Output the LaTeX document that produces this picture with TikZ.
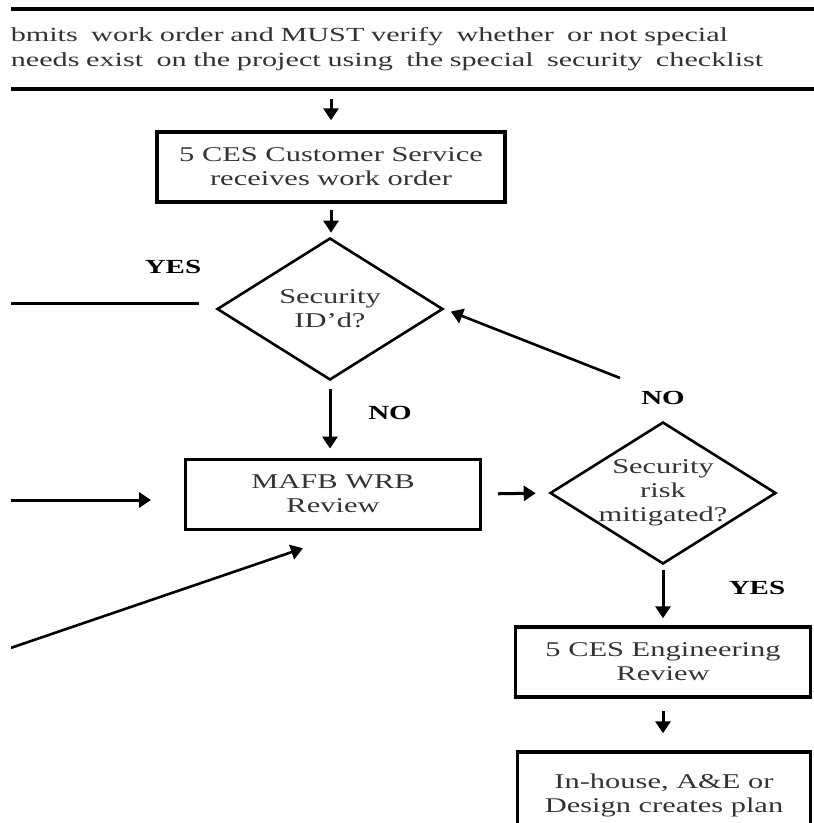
\documentclass[tikz,border=0pt]{standalone}
\usepackage{fontspec}
\setmainfont[FakeStretch=1.45]{Liberation Serif}
\newfontfamily\orderfont[FakeStretch=1.51]{Liberation Serif}
\usetikzlibrary{shapes.geometric,arrows.meta}

\begin{document}
\begin{tikzpicture}[x=1pt,y=-1pt,
  every node/.style={font=\fontsize{21}{24}\selectfont,text=black!80},
  proc/.style={draw=black,line width=3.5pt,align=center,minimum height=70pt,inner sep=0pt},
  decision/.style={draw=black,line width=2.6pt,shape=diamond,minimum width=226pt,minimum height=142pt,inner sep=0pt,align=center},
  flow/.style={line width=3pt,-{Triangle[length=12pt,width=15pt]}},
  answer/.style={font=\bfseries\fontsize{20}{22}\selectfont,text=black}]
  \useasboundingbox (0,0) rectangle (814,823);
  \clip (11,0) rectangle (814,823);
  % boxes and decisions
  \node[proc,anchor=west,inner xsep=39pt,text width=820pt,minimum height=80pt,align=left,
    font=\orderfont\fontsize{20}{25}\selectfont] (order) at (-30,49)
    {bmits\ \ work order and MUST verify\ \ whether\ \ or not special\\needs exist\ \ on the project using\ \ the special\ \ security\ \ checklist};
  \node[proc,minimum width=348pt] (cust) at (331,167) {5 CES Customer Service\\receives work order};
  \node[decision] (sid) at (330,309) {Security\\ID'd?};
  \node[proc,line width=3pt,minimum width=295pt] (mafb) at (333,494) {MAFB WRB\\Review};
  \node[decision,label={[align=center]center:{Security\\risk\\mitigated?}}] (risk) at (663,493) {};
  \node[proc,minimum width=295pt] (eng) at (663,662) {5 CES Engineering\\Review};
  \node[proc,minimum width=293pt,minimum height=86pt] (plan) at (664,795) {In-house, A\&E or\\Design creates plan};
  % answers
  \node[answer] (yesleft) at (173,267) {YES};
  \node[answer] (noleft) at (390,413) {NO};
  \node[answer] (noright) at (663,398) {NO};
  \node[answer] (yesright) at (757,588) {YES};
  % free ends
  \coordinate (yesout) at (-10,303);
  \coordinate (wrbin) at (-10,500);
  \coordinate (wrbdiag) at (-10,655);
  \coordinate (noback) at (620,378);
  % connectors
  \draw[flow,shorten <=8pt,shorten >=10pt] (order.south -| cust.north) -- (cust.north);
  \foreach \from/\to/\sa/\sb in {cust/sid/6/4,sid/mafb/8/9,risk/eng/5/7,eng/plan/12/17}
    \draw[flow,shorten <=\sa pt,shorten >=\sb pt] (\from.south) -- (\from.south |- \to.north);
  \draw[line width=3pt,shorten >=17pt] (yesout) -- (yesout -| sid.west);
  \draw[flow,shorten >=33pt] (wrbin) -- (wrbin -| mafb.west);
  \draw[flow,shorten <=16pt,shorten >=13pt] (mafb.east) -- (risk.west);
  \draw[flow,line width=2.6pt,shorten >=55pt] (wrbdiag) -- ([xshift=22pt]mafb.south);
  \draw[flow,line width=2.6pt,shorten >=7pt] (noback) -- (sid.east);
\end{tikzpicture}
\end{document}
